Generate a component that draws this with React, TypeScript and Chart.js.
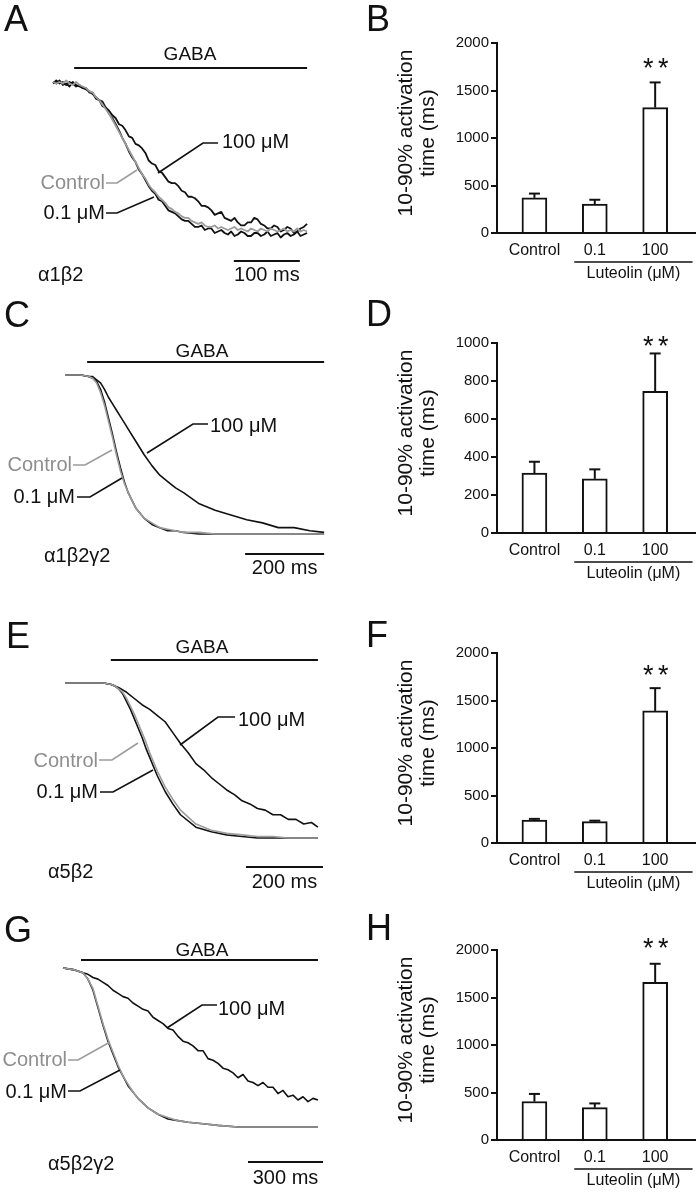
import React, { useEffect, useRef } from "react";
import { Chart, registerables } from "chart.js";
Chart.register(...registerables);

const FONT = '"Liberation Sans", Arial, Helvetica, sans-serif';
const BLACK = "#111111";
const GRAY = "#9c9c9c";
const GRAY_TEXT = "#8e8e8e";

const TRACE_LEFT = 0;
const TRACE_W = 345;
const BAR_LEFT = 345;
const BAR_W = 352;

// ---------------- DATA: current traces (time in ms, normalized current) ----------------
// Panel A  α1β2
const timeA = [0, 5, 10, 15, 20, 25, 30, 35, 40, 45, 50, 55, 60, 65, 70, 75, 80, 85, 90, 95, 100, 105, 110, 115, 120, 125, 130, 135, 140, 145, 150, 155, 160, 165, 170, 175, 180, 185, 190, 195, 200, 205, 210, 215, 220, 225, 230, 235, 240, 245, 250, 255, 260, 265, 270, 275, 280, 285, 290, 295, 300, 305, 310, 315, 320, 325, 330, 335, 340, 345, 350, 355, 360, 365, 370, 375, 380, 385];
const controlA = [0.0, -0.01, 0.0, -0.01, 0.01, -0.01, -0.02, 0.0, -0.02, -0.03, -0.04, -0.06, -0.07, -0.1, -0.12, -0.15, -0.18, -0.21, -0.25, -0.29, -0.33, -0.37, -0.41, -0.45, -0.49, -0.53, -0.57, -0.61, -0.64, -0.68, -0.71, -0.73, -0.76, -0.78, -0.8, -0.83, -0.84, -0.86, -0.87, -0.89, -0.9, -0.9, -0.92, -0.93, -0.94, -0.93, -0.95, -0.96, -0.96, -0.95, -0.97, -0.96, -0.97, -0.98, -0.97, -0.96, -0.98, -0.97, -0.98, -0.99, -0.97, -0.98, -0.99, -0.97, -0.98, -0.99, -0.97, -0.98, -0.99, -0.98, -0.97, -0.99, -0.98, -0.99, -0.97, -0.99, -0.98, -0.99];
const low01A = [-0.01, 0.01, -0.01, 0.0, -0.02, 0.0, -0.01, -0.03, -0.02, -0.04, -0.04, -0.07, -0.07, -0.11, -0.12, -0.16, -0.17, -0.21, -0.24, -0.28, -0.32, -0.37, -0.41, -0.46, -0.5, -0.53, -0.58, -0.61, -0.65, -0.69, -0.72, -0.74, -0.78, -0.79, -0.82, -0.85, -0.86, -0.87, -0.89, -0.91, -0.92, -0.92, -0.94, -0.96, -0.96, -0.95, -0.98, -0.97, -0.97, -1.0, -0.99, -0.98, -1.0, -1.01, -0.99, -1.02, -1.01, -0.99, -1.0, -1.02, -1.02, -1.0, -1.0, -1.02, -1.01, -0.99, -1.02, -1.01, -1.0, -1.03, -1.01, -1.0, -1.02, -1.01, -0.99, -1.02, -1.01, -1.0];
const high100A = [0.0, -0.01, 0.01, -0.02, -0.01, -0.03, 0.0, -0.02, -0.03, -0.04, -0.05, -0.06, -0.08, -0.1, -0.12, -0.13, -0.17, -0.19, -0.22, -0.24, -0.28, -0.29, -0.32, -0.36, -0.37, -0.41, -0.42, -0.44, -0.47, -0.52, -0.54, -0.55, -0.59, -0.6, -0.63, -0.66, -0.67, -0.67, -0.69, -0.72, -0.73, -0.76, -0.76, -0.77, -0.79, -0.82, -0.82, -0.83, -0.85, -0.88, -0.87, -0.86, -0.9, -0.91, -0.92, -0.9, -0.93, -0.95, -0.95, -0.93, -0.93, -0.9, -0.91, -0.94, -0.95, -0.97, -0.97, -0.95, -0.96, -0.99, -0.98, -0.96, -0.97, -1.0, -0.99, -0.97, -0.96, -0.94];

// Panel C  α1β2γ2
const timeC = [0, 20, 40, 60, 70, 80, 90, 100, 110, 120, 130, 140, 150, 160, 180, 200, 220, 240, 260, 280, 300, 340, 380, 420, 460, 500, 540, 580, 620, 656];
const controlC = [0, 0, 0, -0.01, -0.02, -0.05, -0.11, -0.19, -0.29, -0.39, -0.5, -0.6, -0.68, -0.74, -0.84, -0.9, -0.93, -0.96, -0.97, -0.98, -0.99, -0.99, -1.0, -1.0, -1.0, -1.0, -1.0, -1.0, -1.0, -1.0];
const low01C = [0, 0, 0, -0.01, -0.02, -0.04, -0.09, -0.17, -0.27, -0.37, -0.48, -0.58, -0.67, -0.74, -0.84, -0.9, -0.94, -0.96, -0.98, -0.98, -0.99, -1.0, -1.0, -1.0, -1.0, -1.0, -1.0, -1.0, -1.0, -1.0];
const high100C = [0, 0, 0, -0.01, -0.01, -0.03, -0.05, -0.09, -0.14, -0.18, -0.22, -0.26, -0.3, -0.34, -0.42, -0.5, -0.57, -0.63, -0.67, -0.71, -0.74, -0.81, -0.85, -0.88, -0.91, -0.93, -0.96, -0.96, -0.98, -0.99];

// Panel E  α5β2
const timeE = [0, 40, 80, 100, 120, 130, 140, 150, 160, 170, 180, 190, 200, 210, 220, 240, 260, 280, 300, 340, 380, 420, 460, 500, 540, 580, 620, 657];
const controlE = [0, 0, 0, 0, -0.01, -0.02, -0.04, -0.06, -0.1, -0.15, -0.2, -0.26, -0.32, -0.38, -0.45, -0.57, -0.67, -0.75, -0.82, -0.91, -0.95, -0.97, -0.98, -0.99, -0.99, -1.0, -1.0, -1.0];
const low01E = [0, 0, 0, 0, -0.01, -0.02, -0.04, -0.07, -0.12, -0.17, -0.23, -0.29, -0.35, -0.42, -0.48, -0.6, -0.7, -0.78, -0.85, -0.93, -0.96, -0.98, -0.99, -1.0, -1.0, -1.0, -1.0, -1.0];
const timeE100 = [0, 40, 80, 100, 120, 140, 160, 180, 200, 220, 240, 260, 280, 300, 320, 340, 360, 380, 400, 420, 440, 460, 480, 500, 520, 540, 560, 580, 600, 620, 640, 657];
const high100E = [0, 0, 0, 0, -0.01, -0.03, -0.06, -0.1, -0.14, -0.17, -0.21, -0.25, -0.32, -0.39, -0.45, -0.52, -0.56, -0.61, -0.65, -0.69, -0.72, -0.76, -0.78, -0.81, -0.82, -0.85, -0.85, -0.88, -0.88, -0.91, -0.9, -0.93];

// Panel G  α5β2γ2
const timeG = [0, 40, 80, 100, 120, 140, 160, 180, 200, 220, 240, 260, 280, 300, 340, 380, 420, 460, 500, 560, 620, 700, 800, 900, 1020];
const controlG = [0, -0.01, -0.03, -0.07, -0.13, -0.24, -0.35, -0.45, -0.53, -0.61, -0.68, -0.73, -0.78, -0.82, -0.88, -0.92, -0.94, -0.96, -0.97, -0.98, -0.99, -1.0, -1.0, -1.0, -1.0];
const low01G = [0, -0.01, -0.03, -0.07, -0.14, -0.25, -0.36, -0.46, -0.54, -0.62, -0.68, -0.74, -0.78, -0.82, -0.88, -0.92, -0.95, -0.96, -0.97, -0.98, -0.99, -1.0, -1.0, -1.0, -1.0];
const timeG100 = [0, 40, 80, 100, 120, 140, 160, 180, 200, 220, 240, 260, 280, 300, 320, 340, 360, 380, 400, 420, 440, 460, 480, 500, 520, 540, 560, 580, 600, 620, 640, 660, 680, 700, 720, 740, 760, 780, 800, 820, 840, 860, 880, 900, 920, 940, 960, 980, 1000, 1020];
const high100G = [0, -0.01, -0.03, -0.04, -0.06, -0.07, -0.09, -0.11, -0.14, -0.16, -0.18, -0.19, -0.22, -0.24, -0.26, -0.27, -0.31, -0.33, -0.35, -0.38, -0.39, -0.43, -0.46, -0.47, -0.49, -0.52, -0.52, -0.57, -0.58, -0.6, -0.63, -0.64, -0.66, -0.69, -0.67, -0.71, -0.72, -0.74, -0.72, -0.75, -0.75, -0.79, -0.77, -0.81, -0.8, -0.83, -0.81, -0.84, -0.82, -0.83];

// ---------------- DATA: bar charts (10-90% activation time, ms) ----------------
const barCategories = ["Control", "0.1", "100"];
const meanB = [370, 305, 1320];
const semB = [45, 45, 265];
const meanD = [315, 285, 745];
const semD = [60, 50, 200];
const meanF = [242, 225, 1390];
const semF = [12, 10, 240];
const meanH = [405, 340, 1660];
const semH = [80, 45, 195];

// ---------------- LAYOUT (absolute figure pixels) ----------------
type Pt = [number, number];
type TraceLabel = { text: string; color: string; lineColor: string; align: CanvasTextAlign; x: number; y: number; line: Pt[] };
type TraceLayout = {
  top: number; height: number;
  x0: number; pxPerMs: number; y0: number; y1: number; lineWidth: number;
  gaba: { start: number; end: number; y: number; textX: number; textY: number };
  scaleBar: { end: number; len: number; y: number; label: string; textY: number };
  receptor: { text: string; x: number; y: number };
  letter: { text: string; x: number; y: number };
  labels: TraceLabel[];
};

const lbl100 = (x: number, y: number, line: Pt[]): TraceLabel => ({ text: "100 \u03bcM", color: BLACK, lineColor: BLACK, align: "left", x, y, line });
const lblCtl = (x: number, y: number, line: Pt[]): TraceLabel => ({ text: "Control", color: GRAY_TEXT, lineColor: GRAY, align: "right", x, y, line });
const lbl01 = (x: number, y: number, line: Pt[]): TraceLabel => ({ text: "0.1 \u03bcM", color: BLACK, lineColor: BLACK, align: "right", x, y, line });

const layoutA: TraceLayout = {
  top: 0, height: 290, x0: 53, pxPerMs: 0.66, y0: 82, y1: 233, lineWidth: 1.8,
  gaba: { start: 32, end: 385, y: 68, textX: 190, textY: 55 },
  scaleBar: { end: 374, len: 100, y: 261, label: "100 ms", textY: 275 },
  receptor: { text: "\u03b11\u03b22", x: 38, y: 275 },
  letter: { text: "A", x: 4, y: 31 },
  labels: [
    lbl100(222, 142, [[158, 173], [203, 143], [218, 143]]),
    lblCtl(105, 183, [[106, 183], [117, 183], [137, 170]]),
    lbl01(105, 213, [[106, 213], [117, 213], [154, 197]]),
  ],
};
const layoutC: TraceLayout = {
  top: 290, height: 300, x0: 65, pxPerMs: 0.395, y0: 375, y1: 534, lineWidth: 1.6,
  gaba: { start: 56, end: 656, y: 362, textX: 202, textY: 352 },
  scaleBar: { end: 656, len: 200, y: 554, label: "200 ms", textY: 568 },
  receptor: { text: "\u03b11\u03b22\u03b32", x: 44, y: 556 },
  letter: { text: "C", x: 4, y: 327 },
  labels: [
    lbl100(210, 426, [[147, 453], [193, 424], [208, 424]]),
    lblCtl(72, 465, [[73, 465], [85, 465], [112, 450]]),
    lbl01(75, 497, [[77, 497], [90, 497], [122, 478]]),
  ],
};
const layoutE: TraceLayout = {
  top: 590, height: 305, x0: 65, pxPerMs: 0.385, y0: 683, y1: 838, lineWidth: 1.6,
  gaba: { start: 119, end: 657, y: 660, textX: 202, textY: 648 },
  scaleBar: { end: 670, len: 200, y: 867, label: "200 ms", textY: 882 },
  receptor: { text: "\u03b15\u03b22", x: 48, y: 872 },
  letter: { text: "E", x: 6, y: 648 },
  labels: [
    lbl100(238, 720, [[180, 745], [218, 717], [235, 717]]),
    lblCtl(98, 761, [[99, 760], [112, 760], [138, 743]]),
    lbl01(98, 792, [[100, 792], [113, 792], [153, 770]]),
  ],
};
const layoutG: TraceLayout = {
  top: 895, height: 299, x0: 63, pxPerMs: 0.25, y0: 968, y1: 1127, lineWidth: 1.6,
  gaba: { start: 72, end: 1020, y: 960, textX: 202, textY: 951 },
  scaleBar: { end: 1040, len: 300, y: 1162, label: "300 ms", textY: 1178 },
  receptor: { text: "\u03b15\u03b22\u03b32", x: 48, y: 1164 },
  letter: { text: "G", x: 4, y: 942 },
  labels: [
    lbl100(218, 1009, [[167, 1028], [202, 1005], [217, 1005]]),
    lblCtl(67, 1060, [[68, 1060], [78, 1060], [110, 1042]]),
    lbl01(67, 1092, [[68, 1091], [80, 1091], [120, 1070]]),
  ],
};

type BarLayout = {
  top: number; height: number; axisLeft: number; axisRight: number; axisTop: number; axisBottom: number;
  yMax: number; yStep: number; letter: { text: string; x: number; y: number }; starY: number;
};
const barLayoutB: BarLayout = { top: 0, height: 290, axisLeft: 497, axisRight: 695, axisTop: 43, axisBottom: 233, yMax: 2000, yStep: 500, letter: { text: "B", x: 366, y: 31 }, starY: 62 };
const barLayoutD: BarLayout = { top: 290, height: 300, axisLeft: 497, axisRight: 695, axisTop: 343, axisBottom: 533, yMax: 1000, yStep: 200, letter: { text: "D", x: 366, y: 326 }, starY: 340 };
const barLayoutF: BarLayout = { top: 590, height: 305, axisLeft: 497, axisRight: 695, axisTop: 653, axisBottom: 843, yMax: 2000, yStep: 500, letter: { text: "F", x: 366, y: 647 }, starY: 669 };
const barLayoutH: BarLayout = { top: 895, height: 299, axisLeft: 497, axisRight: 695, axisTop: 950, axisBottom: 1140, yMax: 2000, yStep: 500, letter: { text: "H", x: 366, y: 940 }, starY: 942 };

// ---------------- helpers ----------------
function seg(ctx: CanvasRenderingContext2D, x1: number, y1: number, x2: number, y2: number) {
  ctx.beginPath();
  ctx.moveTo(x1, y1);
  ctx.lineTo(x2, y2);
  ctx.stroke();
}
function txt(ctx: CanvasRenderingContext2D, s: string, x: number, y: number, size: number, color: string, align: CanvasTextAlign = "left", baseline: CanvasTextBaseline = "middle") {
  ctx.font = `${size}px ${FONT}`;
  ctx.fillStyle = color;
  ctx.textAlign = align;
  ctx.textBaseline = baseline;
  ctx.fillText(s, x, y);
}

type Series = { t: number[]; y: number[]; color: string };

function TracePanel({ layout, series }: { layout: TraceLayout; series: Series[] }) {
  const ref = useRef<HTMLCanvasElement | null>(null);
  useEffect(() => {
    const L = layout;
    const W = TRACE_W;
    const H = L.height;
    const oy = L.top;
    const ox = TRACE_LEFT;
    const y0 = L.y0 - oy;
    const unit = L.y1 - L.y0;
    const x0 = L.x0 - ox;
    const deco = {
      id: "traceDeco",
      afterDraw(chart: any) {
        const ctx: CanvasRenderingContext2D = chart.ctx;
        const xs = chart.scales.x;
        ctx.save();
        ctx.strokeStyle = BLACK;
        ctx.lineWidth = 2;
        seg(ctx, xs.getPixelForValue(L.gaba.start), L.gaba.y - oy, xs.getPixelForValue(L.gaba.end), L.gaba.y - oy);
        txt(ctx, "GABA", L.gaba.textX - ox, L.gaba.textY - oy, 19, BLACK, "center");
        const sx1 = xs.getPixelForValue(L.scaleBar.end - L.scaleBar.len);
        const sx2 = xs.getPixelForValue(L.scaleBar.end);
        seg(ctx, sx1, L.scaleBar.y - oy, sx2, L.scaleBar.y - oy);
        txt(ctx, L.scaleBar.label, (sx1 + sx2) / 2, L.scaleBar.textY - oy, 20, BLACK, "center");
        txt(ctx, L.receptor.text, L.receptor.x - ox, L.receptor.y - oy, 20, BLACK, "left");
        txt(ctx, L.letter.text, L.letter.x - ox, L.letter.y - oy, 36, BLACK, "left", "alphabetic");
        for (const lb of L.labels) {
          ctx.strokeStyle = lb.lineColor;
          ctx.lineWidth = 1.6;
          ctx.beginPath();
          lb.line.forEach(([x, y], i) => (i ? ctx.lineTo(x - ox, y - oy) : ctx.moveTo(x - ox, y - oy)));
          ctx.stroke();
          txt(ctx, lb.text, lb.x - ox, lb.y - oy, 20, lb.color, lb.align);
        }
        ctx.restore();
      },
    };
    const chart = new Chart(ref.current as HTMLCanvasElement, {
      type: "line",
      data: {
        datasets: series.map((s) => ({
          data: s.t.map((t, i) => ({ x: t, y: s.y[i] })),
          borderColor: s.color,
          borderWidth: L.lineWidth,
          pointRadius: 0,
          tension: 0,
          fill: false,
          borderJoinStyle: "round" as const,
        })),
      },
      options: {
        animation: false,
        responsive: false,
        events: [],
        layout: { padding: 0 },
        plugins: { legend: { display: false }, tooltip: { enabled: false } },
        scales: {
          x: { type: "linear", display: false, min: -x0 / L.pxPerMs, max: (W - x0) / L.pxPerMs },
          y: { type: "linear", display: false, min: -(H - y0) / unit, max: y0 / unit },
        },
      },
      plugins: [deco],
    } as any);
    return () => chart.destroy();
  }, []);
  return (
    <canvas
      ref={ref}
      width={TRACE_W}
      height={layout.height}
      style={{ position: "absolute", left: TRACE_LEFT, top: layout.top, width: TRACE_W, height: layout.height }}
    />
  );
}

function BarPanel({ layout, means, sems }: { layout: BarLayout; means: number[]; sems: number[] }) {
  const ref = useRef<HTMLCanvasElement | null>(null);
  useEffect(() => {
    const L = layout;
    const oy = L.top;
    const ox = BAR_LEFT;
    const deco = {
      id: "barDeco",
      afterDatasetsDraw(chart: any) {
        const ctx: CanvasRenderingContext2D = chart.ctx;
        const xs = chart.scales.x;
        const ys = chart.scales.y;
        ctx.save();
        ctx.strokeStyle = BLACK;
        ctx.lineWidth = 2;
        means.forEach((m, i) => {
          const x = xs.getPixelForValue(i);
          const yb = ys.getPixelForValue(m);
          const yt = ys.getPixelForValue(m + sems[i]);
          seg(ctx, x, yb, x, yt);
          seg(ctx, x - 5.5, yt, x + 5.5, yt);
        });
        ctx.restore();
      },
      afterDraw(chart: any) {
        const ctx: CanvasRenderingContext2D = chart.ctx;
        const xs = chart.scales.x;
        const area = chart.chartArea;
        ctx.save();
        const yLab = area.bottom + 18;
        barCategories.forEach((c, i) => txt(ctx, c, xs.getPixelForValue(i), yLab, 16, BLACK, "center"));
        ctx.strokeStyle = BLACK;
        ctx.lineWidth = 1.5;
        const lx1 = xs.getPixelForValue(0.66);
        const lx2 = xs.getPixelForValue(2.62);
        seg(ctx, lx1, area.bottom + 29, lx2, area.bottom + 29);
        txt(ctx, "Luteolin (\u03bcM)", (lx1 + lx2) / 2, area.bottom + 41, 16, BLACK, "center");
        const cy = (area.top + area.bottom) / 2 - 5;
        const lines = ["10-90% activation", "time (ms)"];
        const xsT = [406 - ox, 428 - ox];
        lines.forEach((s, i) => {
          ctx.save();
          ctx.translate(xsT[i], cy);
          ctx.rotate(-Math.PI / 2);
          txt(ctx, s, 0, 0, 21, BLACK, "center");
          ctx.restore();
        });
        const sx = xs.getPixelForValue(2);
        txt(ctx, "*", sx - 7, L.starY - oy + 15, 27, BLACK, "center", "alphabetic");
        txt(ctx, "*", sx + 8, L.starY - oy + 15, 27, BLACK, "center", "alphabetic");
        txt(ctx, L.letter.text, L.letter.x - ox, L.letter.y - oy, 36, BLACK, "left", "alphabetic");
        ctx.restore();
      },
    };
    const chart = new Chart(ref.current as HTMLCanvasElement, {
      type: "bar",
      data: {
        datasets: [
          {
            data: means.map((m, i) => ({ x: i, y: m })),
            backgroundColor: "#ffffff",
            borderColor: BLACK,
            borderWidth: 2,
            barThickness: 25,
          },
        ],
      },
      options: {
        animation: false,
        responsive: false,
        events: [],
        layout: {
          padding: {
            left: 0,
            right: BAR_LEFT + BAR_W - L.axisRight,
            top: L.axisTop - oy,
            bottom: oy + L.height - L.axisBottom,
          },
        },
        plugins: { legend: { display: false }, tooltip: { enabled: false } },
        scales: {
          x: {
            type: "linear",
            min: -0.62,
            max: 2.66,
            offset: false,
            ticks: { display: false },
            grid: { display: false, drawTicks: false, offset: false },
            border: { display: true, color: BLACK, width: 2 },
            afterFit: (s: any) => {
              s.height = 0;
            },
          },
          y: {
            type: "linear",
            min: 0,
            max: L.yMax,
            ticks: {
              stepSize: L.yStep,
              color: BLACK,
              padding: 2,
              font: { family: FONT, size: 15 },
              callback: (v: any) => String(v),
            },
            grid: { display: true, drawOnChartArea: false, drawTicks: true, tickLength: 6, color: BLACK, lineWidth: 2 },
            border: { display: true, color: BLACK, width: 2 },
            afterFit: (s: any) => {
              s.width = L.axisLeft - ox;
            },
          },
        },
      },
      plugins: [deco],
    } as any);
    return () => chart.destroy();
  }, []);
  return (
    <canvas
      ref={ref}
      width={BAR_W}
      height={layout.height}
      style={{ position: "absolute", left: BAR_LEFT, top: layout.top, width: BAR_W, height: layout.height }}
    />
  );
}

const seriesA: Series[] = [
  { t: timeA, y: controlA, color: GRAY },
  { t: timeA, y: low01A, color: BLACK },
  { t: timeA, y: high100A, color: BLACK },
];
const seriesC: Series[] = [
  { t: timeC, y: controlC, color: GRAY },
  { t: timeC, y: low01C, color: BLACK },
  { t: timeC, y: high100C, color: BLACK },
];
const seriesE: Series[] = [
  { t: timeE, y: controlE, color: GRAY },
  { t: timeE, y: low01E, color: BLACK },
  { t: timeE100, y: high100E, color: BLACK },
];
const seriesG: Series[] = [
  { t: timeG, y: controlG, color: GRAY },
  { t: timeG, y: low01G, color: BLACK },
  { t: timeG100, y: high100G, color: BLACK },
];

export default function App() {
  return (
    <div style={{ position: "absolute", left: 0, top: 0, width: 697, height: 1194, background: "#ffffff", overflow: "hidden" }}>
      <TracePanel layout={layoutA} series={seriesA} />
      <BarPanel layout={barLayoutB} means={meanB} sems={semB} />
      <TracePanel layout={layoutC} series={seriesC} />
      <BarPanel layout={barLayoutD} means={meanD} sems={semD} />
      <TracePanel layout={layoutE} series={seriesE} />
      <BarPanel layout={barLayoutF} means={meanF} sems={semF} />
      <TracePanel layout={layoutG} series={seriesG} />
      <BarPanel layout={barLayoutH} means={meanH} sems={semH} />
    </div>
  );
}
